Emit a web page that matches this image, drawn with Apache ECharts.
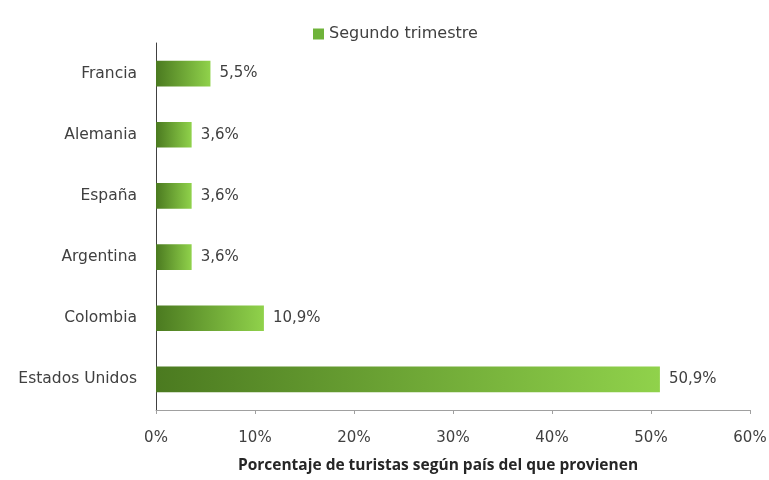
<!DOCTYPE html>
<html><head><meta charset="utf-8">
<script src="https://cdn.jsdelivr.net/npm/echarts@6/dist/echarts.min.js"></script>
<style>html,body{margin:0;padding:0;background:#fff}#c{width:769px;height:480px}</style>
</head><body><div id="c"></div>
<script>
const categories = ['Estados Unidos','Colombia','Argentina','España','Alemania','Francia'];
const values = [50.9, 10.9, 3.6, 3.6, 3.6, 5.5];
const seriesName = 'Segundo trimestre';
const xTicks = [0,10,20,30,40,50,60];
const axisTitle = 'Porcentaje de turistas según país del que provienen';

const font = 'DejaVu Sans';
const chart = echarts.init(document.getElementById('c'));
const grad = new echarts.graphic.LinearGradient(0,0,1,0,[
  {offset:0,color:'#4b7a20'},{offset:1,color:'#90d24b'}]);
chart.setOption({
  animation:false,
  textStyle:{fontFamily:font},
  legend:{top:21,left:308,itemWidth:11,itemHeight:11,itemGap:4,
    icon:'rect',
    textStyle:{fontSize:16,color:'#404040',fontFamily:font},
    data:[{name:seriesName,itemStyle:{color:'#6fb33a'}}]},
  grid:{left:156,right:19,top:43,bottom:70,outerBoundsMode:'none',containLabel:false},
  xAxis:{type:'value',min:xTicks[0],max:xTicks[xTicks.length-1],interval:10,
    axisLine:{show:true,lineStyle:{color:'#a0a0a0'}},
    axisTick:{show:true,length:4,lineStyle:{color:'#a0a0a0'}},
    splitLine:{show:false},
    axisLabel:{formatter:v=>v+'%',fontSize:15,color:'#404040',margin:21},
    name:axisTitle,nameLocation:'middle',nameGap:48,
    nameTextStyle:{fontSize:15.5,fontWeight:'bold',color:'#262626',fontFamily:'Open Sans',padding:[0,30,0,0]}},
  yAxis:{type:'category',data:categories,
    axisLine:{show:true,lineStyle:{color:'#404040'}},
    axisTick:{show:false},
    axisLabel:{fontSize:15.5,color:'#404040',margin:19}},
  series:[{type:'bar',name:seriesName,data:values,barWidth:'42%',
    itemStyle:{color:grad},
    label:{show:true,position:'right',distance:9,fontSize:15,color:'#404040',
      formatter:p=>p.value.toFixed(1).replace('.',',')+'%'}}]
});
</script></body></html>
